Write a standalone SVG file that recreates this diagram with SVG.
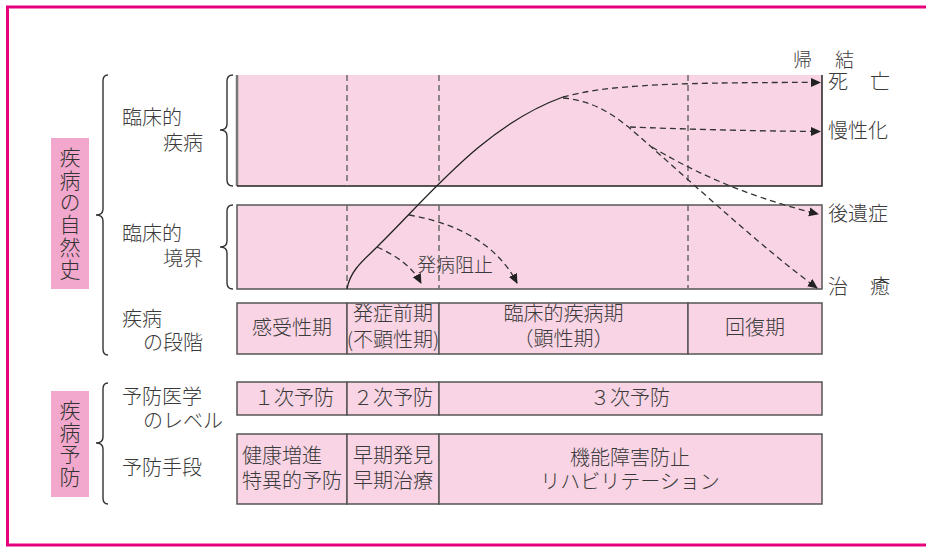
<svg xmlns="http://www.w3.org/2000/svg" width="926" height="547" viewBox="0 0 926 547">
<defs>
<marker id="ah" viewBox="0 0 10 10" refX="9" refY="5" markerWidth="10" markerHeight="10" markerUnits="userSpaceOnUse" orient="auto">
<path d="M0,0.5 L10,5 L0,9.5 Z" fill="#222"/>
</marker>
<style>
text{font-family:"Noto Sans CJK JP","Noto Sans",sans-serif;fill:#3a3a3a;font-size:20px;font-weight:300}
.c{text-anchor:middle}
.cell{fill:#f8d4e4;stroke:#555;stroke-width:1.5}
.tag{fill:#f2a8cc}
.tagt{font-size:21px;text-anchor:middle;fill:#333;writing-mode:vertical-rl;letter-spacing:1.4px}
.brace{fill:none;stroke:#333;stroke-width:1.4}
.vd{stroke:#6a6a6a;stroke-width:1.5;stroke-dasharray:6,4;fill:none}
.dash{fill:none;stroke:#333;stroke-width:1.3;stroke-dasharray:6,4}
.solid{fill:none;stroke:#222;stroke-width:1.3}
</style>
</defs>
<rect x="7.5" y="7" width="940" height="538" fill="#fff" stroke="#e6007e" stroke-width="3"/>

<g id="tag-natural">
<rect class="tag" x="51" y="138" width="38" height="151"/>
<text class="tagt" x="70" y="214">疾病の自然史</text>
</g>
<g id="tag-prevention">
<rect class="tag" x="51" y="391" width="38" height="106"/>
<text class="tagt" x="70" y="444">疾病予防</text>
</g>

<g id="braces">
<path class="brace" d="M108,75 Q103,75 103,81 L103,209 Q103,215 96,215 Q103,215 103,221 L103,349 Q103,355 108,355"/>
<path class="brace" d="M108,383 Q103,383 103,389 L103,437 Q103,443 96,443 Q103,443 103,449 L103,498 Q103,504 108,504"/>
<path class="brace" d="M233,75 Q227,75 227,81 L227,124 Q227,130 220,130 Q227,130 227,136 L227,180 Q227,186 233,186"/>
<path class="brace" d="M233,205 Q227,205 227,211 L227,241 Q227,247 220,247 Q227,247 227,253 L227,283 Q227,289 233,289"/>
</g>

<g id="labels-left">
<text><tspan x="122" y="125">臨床的</tspan><tspan x="163" y="150">疾病</tspan></text>
<text><tspan x="122" y="241">臨床的</tspan><tspan x="163" y="266">境界</tspan></text>
<text><tspan x="122" y="326">疾病</tspan><tspan x="143" y="350">の段階</tspan></text>
<text><tspan x="122" y="404">予防医学</tspan><tspan x="143" y="428">のレベル</tspan></text>
<text x="122" y="475">予防手段</text>
</g>

<g id="clinical-disease">
<rect x="237" y="75" width="585" height="111" fill="#f8d4e4"/>
<path d="M237,75 L237,186" stroke="#777" stroke-width="2.5"/>
<path d="M237,186 L822,186 L822,75" fill="none" stroke="#222" stroke-width="1.5"/>
</g>
<g id="clinical-boundary">
<rect class="cell" x="237" y="205" width="585" height="84"/>
</g>

<g id="phase-lines">
<path class="vd" d="M347,75 V186 M439,75 V186 M688,75 V186 M347,205 V289 M439,205 V289 M688,205 V289"/>
</g>

<g id="connectors">
<path class="solid" d="M347,289 C350,270 365,259 377,247 C430,195 485,125 563,97"/>
<path class="dash" marker-end="url(#ah)" d="M563,97 C600,87 650,82 820,82.5"/>
<path class="dash" marker-end="url(#ah)" d="M563,98 C595,101 615,115 640,137 C700,190 765,250 817,288"/>
<path class="dash" marker-end="url(#ah)" d="M630,127 C680,129 750,131 820,131.5"/>
<path class="dash" marker-end="url(#ah)" d="M652,147 C685,167 740,195 818,214"/>
<path class="dash" marker-end="url(#ah)" d="M377,247 C395,255 412,266 421,283"/>
<path class="dash" marker-end="url(#ah)" d="M409,215 C450,222 495,240 517,283"/>
</g>
<text id="label-block" x="417" y="272" style="font-size:19px">発病阻止</text>

<g id="outcomes">
<text><tspan x="793" y="67" style="font-size:19px">帰</tspan><tspan x="835" y="67" style="font-size:19px">結</tspan><tspan x="828" y="89">死</tspan><tspan x="870" y="89">亡</tspan></text>
<text x="828" y="138">慢性化</text>
<text x="828" y="221">後遺症</text>
<text><tspan x="828" y="294">治</tspan><tspan x="870" y="294">癒</tspan></text>
</g>

<g id="stages">
<rect class="cell" x="237" y="303" width="110" height="51"/>
<rect class="cell" x="347" y="303" width="92" height="51"/>
<rect class="cell" x="439" y="303" width="249" height="51"/>
<rect class="cell" x="688" y="303" width="134" height="51"/>
<text class="c" x="292" y="335">感受性期</text>
<text class="c"><tspan x="393" y="321">発症前期</tspan><tspan x="393" y="347">(不顕性期)</tspan></text>
<text class="c"><tspan x="563.5" y="321">臨床的疾病期</tspan><tspan x="563.5" y="346">（顕性期）</tspan></text>
<text class="c" x="755" y="335">回復期</text>
</g>

<g id="levels">
<rect class="cell" x="237" y="382" width="110" height="33"/>
<rect class="cell" x="347" y="382" width="92" height="33"/>
<rect class="cell" x="439" y="382" width="383" height="33"/>
<text class="c" x="294" y="405">１次予防</text>
<text class="c" x="393" y="405">２次予防</text>
<text class="c" x="630" y="405">３次予防</text>
</g>

<g id="means">
<rect class="cell" x="237" y="434" width="110" height="70"/>
<rect class="cell" x="347" y="434" width="92" height="70"/>
<rect class="cell" x="439" y="434" width="383" height="70"/>
<text><tspan x="242" y="463">健康増進</tspan><tspan x="242" y="488">特異的予防</tspan></text>
<text class="c"><tspan x="393" y="463">早期発見</tspan><tspan x="393" y="488">早期治療</tspan></text>
<text class="c"><tspan x="630" y="465">機能障害防止</tspan><tspan x="630" y="489">リハビリテーション</tspan></text>
</g>
</svg>
